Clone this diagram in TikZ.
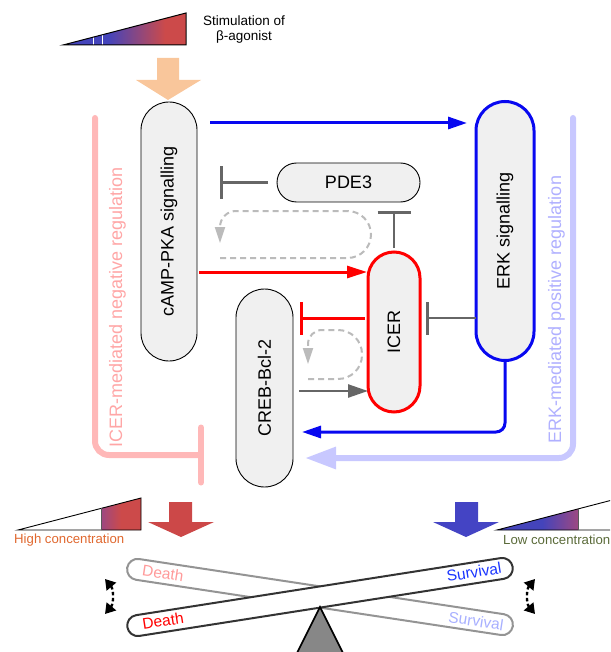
\documentclass[tikz,border=0pt]{standalone}
\usepackage{fontspec}
\setmainfont{Liberation Sans}
\usepackage{graphicx}
\usetikzlibrary{arrows.meta}
\definecolor{boxfill}{HTML}{F0F0F0}
\definecolor{erkblue}{HTML}{0808F0}
\definecolor{icerred}{HTML}{FF0000}
\definecolor{inhgray}{HTML}{666666}
\definecolor{loopgray}{HTML}{BBBBBB}
\definecolor{peach}{HTML}{F9C69B}
\definecolor{gradblue}{HTML}{4444BB}
\definecolor{gradred}{HTML}{CC4A4A}
\definecolor{gradmix}{HTML}{9C4882}
\definecolor{pinkreg}{HTML}{FFB8B8}
\definecolor{pinktext}{HTML}{FFA6A6}
\definecolor{lblue}{HTML}{C8C8FF}
\definecolor{lbluetext}{HTML}{B0B0FF}
\definecolor{highc}{HTML}{E0682F}
\definecolor{lowc}{HTML}{5B6B3A}
\definecolor{arrred}{HTML}{CC4848}
\definecolor{arrblue}{HTML}{4444C4}
\definecolor{deathpink}{HTML}{FF9A9A}
\definecolor{survblue}{HTML}{1A35FF}
\definecolor{survlight}{HTML}{A8B0FF}
\begin{document}
\begin{tikzpicture}[x=1pt,y=-1pt,
  box/.style={draw=black, line width=0.9pt, fill=boxfill, inner sep=0pt, outer sep=0pt, font=\fontsize{18}{20}\selectfont},
  bluearr/.style={draw=erkblue, line width=3pt, -{Triangle[length=19pt,width=12pt]}},
  redarr/.style={draw=icerred, line width=3pt, -{Triangle[length=20pt,width=12pt]}},
  grayarr/.style={draw=inhgray, line width=2.5pt, -{Triangle[length=20pt,width=13pt]}},
  inh/.style={draw=inhgray, line width=2.5pt, -{Bar[width=33pt]}},
  redinh/.style={draw=icerred, line width=3pt, -{Bar[width=33pt]}},
  loopline/.style={draw=loopgray, line width=2pt, dash pattern=on 6pt off 4pt, -{Triangle[length=16pt,width=10pt]}},
  lbluearr/.style={draw=lblue, line width=6pt, line cap=round, -{Triangle[length=31pt,width=21pt]}},
  pinkinh/.style={draw=pinkreg, line width=6pt, line cap=round, -{Bar[width=55pt,round]}},
  regtext/.style={rotate=90, anchor=base, inner sep=0pt, font=\fontsize{18}{20}\selectfont},
  conctext/.style={anchor=west, inner sep=0pt, font=\fontsize{13.2}{15}\selectfont},
  bartext/.style={inner sep=0pt, font=\fontsize{15.5}{17}\selectfont},
  balancebar/.style={fill=white, minimum width=390pt, minimum height=21pt, rounded corners=10.5pt, inner sep=0pt},
  swing/.style={draw=black, line width=2.4pt, dash pattern=on 3.5pt off 2.5pt, {Triangle[length=10pt,width=12pt]}-{Triangle[length=10pt,width=12pt]}}
]
\useasboundingbox (0,0) rectangle (610,652);
\clip (0,0) rectangle (610,652);

% top gradient triangle
\begin{scope}
\clip (63,45) -- (186,45) -- (186,13) -- cycle;
\fill[gradblue] (62,10) rectangle (108,46);
\shade[left color=gradblue, right color=gradred] (108,10) rectangle (165,46);
\fill[gradred] (165,10) rectangle (187,46);
\draw[white, line width=1pt] (93,30) -- (93,46) (102,30) -- (102,46);
\end{scope}
\draw[line width=1pt, line join=miter] (63,45) -- (186,45) -- (186,13) -- cycle;
\node[align=center, inner sep=0pt, font=\fontsize{13.5}{15}\selectfont] (stim) at (244,29.5) {Stimulation of\\β-agonist};

% peach arrow
\fill[peach] (157,58) -- (179,58) -- (179,80) -- (201,80) -- (168,100) -- (136,80) -- (157,80) -- cycle;

% regulation brackets
\coordinate (icerreg) at (95,118);
\coordinate (erkreg) at (573,118);

% nodes
\node[box, minimum width=56pt, minimum height=259pt, rounded corners=28pt] (camp) at (169,231.5) {\rotatebox{90}{cAMP-PKA signalling}};
\node[box, draw=erkblue, line width=3pt, minimum width=58pt, minimum height=259pt, rounded corners=29pt] (erk) at (505,231) {\rotatebox{90}{ERK signalling}};
\node[box, minimum width=143pt, minimum height=39pt, rounded corners=19.5pt] (pde) at (348.5,182.5) {PDE3};
\node[box, draw=icerred, line width=3pt, minimum width=52pt, minimum height=160pt, rounded corners=26pt] (icer) at (394,332) {\rotatebox{90}{ICER}};
\node[box, minimum width=57pt, minimum height=198pt, rounded corners=28.5pt] (creb) at (264.5,388) {\rotatebox{90}{CREB-Bcl-2}};

% regulation texts
\node[regtext, text=pinktext] (negtext) at (122,307.5) {ICER-mediated negative regulation};
\node[regtext, text=lbluetext] (postext) at (561,309.5) {ERK-mediated positive regulation};

% brackets
\coordinate (r5) at ([yshift=-70pt]creb.east);
\draw[lbluearr, rounded corners=14pt, shorten >=12pt] (erkreg) |- (r5);
\coordinate (r6) at ([yshift=-67pt]creb.west);
\draw[pinkinh, rounded corners=14pt, shorten >=32pt] (icerreg) |- (r6);

% cAMP -> ERK
\coordinate (r0) at ([yshift=108.5pt]camp.east);
\draw[bluearr, shorten <=13pt, shorten >=9pt] (r0) -- (r0 -| erk.west);
% PDE3 -| cAMP
\draw[inh, shorten <=9pt, shorten >=23pt] (pde.west) -- (pde.west -| camp.east);
% ICER -| PDE3
\draw[inh, shorten <=4pt, shorten >=9pt] (icer.north) -- (icer.north |- pde.south);
% dashed loops
\draw[loopline] (220,258) [rounded corners=23.5pt] -- (371,258) -- (371,211) [rounded corners=16pt] -- (220,211) -- (220,243);
\draw[loopline] (308,379) [rounded corners=24pt] -- (362,379) -- (362,330) [rounded corners=14pt] -- (308,330) -- (308,364);
% cAMP -> ICER
\coordinate (r1) at ([yshift=60pt]icer.west);
\draw[redarr, shorten <=2pt, shorten >=1pt] (r1 -| camp.east) -- (r1);
% ICER -| CREB
\coordinate (r2) at ([yshift=14pt]icer.west);
\draw[redinh, shorten <=3pt, shorten >=7pt] (r2) -- (r2 -| creb.east);
% ERK -| ICER
\draw[inh, shorten >=6pt] (r2 -| erk.west) -- (r2 -| icer.east);
% CREB -> ICER
\coordinate (r3) at ([yshift=-59pt]icer.west);
\draw[grayarr, shorten <=6pt] (r3 -| creb.east) -- (r3);
% ERK -> CREB
\coordinate (r4) at ([yshift=-44pt]creb.east);
\draw[bluearr, rounded corners=9pt, shorten >=9pt] (erk.south) |- (r4);

% bottom left triangle
\begin{scope}
\clip (18,530) -- (141,530) -- (141,498) -- cycle;
\shade[left color=gradmix, right color=gradred] (101,495) rectangle (121,531);
\fill[gradred] (121,495) rectangle (142,531);
\end{scope}
\draw[line width=0.9pt, line join=miter] (18,530) -- (141,530) -- (141,498) -- cycle;
\draw[line width=0.9pt, black!65] (101,530) -- (101,508.4);
\node[conctext, text=highc] (high) at (14,540) {High concentration};

% bottom right triangle
\begin{scope}
\clip (497,530) -- (620,530) -- (620,498) -- cycle;
\fill[gradblue] (496,495) rectangle (542,531);
\shade[left color=gradblue, right color=gradmix] (542,495) rectangle (578,531);
\end{scope}
\draw[line width=0.9pt, line join=miter] (497,530) -- (620,530) -- (620,498) -- cycle;
\draw[line width=0.9pt, black!65] (578,530) -- (578,508.9);
\node[conctext, text=lowc] (low) at (503,540) {Low concentration};

% big arrows
\fill[arrred] (169,502) -- (192,502) -- (192,522) -- (214,522) -- (181,537) -- (148,522) -- (169,522) -- cycle;
\fill[arrblue] (455,502) -- (478,502) -- (478,522) -- (499,522) -- (466,537) -- (433,522) -- (455,522) -- cycle;

% balance
\node[balancebar, draw=black!42, line width=2pt, rotate=-8.6] (oldbar) at (320,597) {};
\node[bartext, rotate=-8.6, text=deathpink] (d1) at (163,573) {Death};
\node[bartext, rotate=-8.6, text=survlight] (s1) at (476,621) {Survival};
\node[balancebar, draw=black!80, line width=2pt, rotate=8.9] (newbar) at (320,597) {};
\node[bartext, rotate=8.9, text=red] (d2) at (163,621) {Death};
\node[bartext, rotate=8.9, text=survblue] (s2) at (474,572) {Survival};
\draw[fill=black!47, line width=1.6pt, line join=miter] (320,607) -- (349,665) -- (291,665) -- cycle;

% swing arrows
\coordinate (swl1) at (105,579);
\coordinate (swl2) at (105,614);
\coordinate (swr1) at (535,579);
\coordinate (swr2) at (535,614);
\draw[swing] (swl1) to[bend left=40] (swl2);
\draw[swing] (swr1) to[bend right=40] (swr2);
\end{tikzpicture}
\end{document}
